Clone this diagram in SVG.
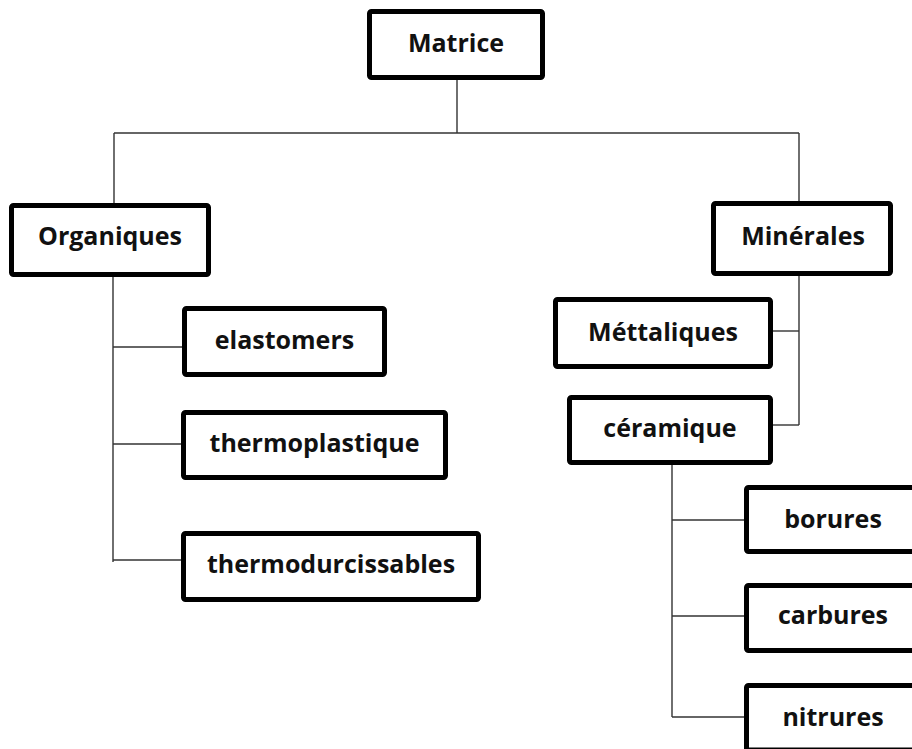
<svg xmlns="http://www.w3.org/2000/svg" width="912" height="749" viewBox="0 0 912 749">
  <style>
    .box { fill: #ffffff; stroke: #000000; stroke-width: 5; }
    .lbl { font-family: "Open Sans", "Liberation Sans", sans-serif; font-weight: 700; font-size: 25px; fill: #111111; text-anchor: middle; }
    .wire { fill: none; stroke: #333333; stroke-width: 1.4; }
  </style>
  <rect width="912" height="749" fill="#ffffff"/>

  <!-- tree connectors -->
  <g id="connectors">
    <path class="wire" d="M457,80 V133"/>
    <path class="wire" d="M114,133 H799"/>
    <path class="wire" d="M114,133 V203"/>
    <path class="wire" d="M799,133 V201"/>
    <path class="wire" d="M113,277 V562"/>
    <path class="wire" d="M113,347 H182"/>
    <path class="wire" d="M113,444 H181"/>
    <path class="wire" d="M113,560 H181"/>
    <path class="wire" d="M799,276 V425"/>
    <path class="wire" d="M799,331 H773"/>
    <path class="wire" d="M799,425 H773"/>
    <path class="wire" d="M672,465 V717"/>
    <path class="wire" d="M672,520 H744"/>
    <path class="wire" d="M672,616 H744"/>
    <path class="wire" d="M672,717 H744"/>
  </g>

  <g id="matrice">
    <rect class="box" x="369.5" y="11.5" width="173" height="66" rx="2"/>
    <text class="lbl" x="456" y="52">Matrice</text>
  </g>
  <g id="organiques">
    <rect class="box" x="11.5" y="205.5" width="197" height="69" rx="2"/>
    <text class="lbl" x="110" y="245">Organiques</text>
  </g>
  <g id="minerales">
    <rect class="box" x="713.5" y="203.5" width="177" height="70" rx="2"/>
    <text class="lbl" x="803" y="245">Minérales</text>
  </g>
  <g id="elastomers">
    <rect class="box" x="184.5" y="308.5" width="200" height="66" rx="2"/>
    <text class="lbl" x="284.5" y="349">elastomers</text>
  </g>
  <g id="thermoplastique">
    <rect class="box" x="183.5" y="412.5" width="262" height="65" rx="2"/>
    <text class="lbl" x="314.5" y="452">thermoplastique</text>
  </g>
  <g id="thermodurcissables">
    <rect class="box" x="183.5" y="533.5" width="295" height="66" rx="2"/>
    <text class="lbl" x="331" y="573">thermodurcissables</text>
  </g>
  <g id="mettaliques">
    <rect class="box" x="555.5" y="299.5" width="215" height="67" rx="2"/>
    <text class="lbl" x="663" y="341">Méttaliques</text>
  </g>
  <g id="ceramique">
    <rect class="box" x="569.5" y="397.5" width="201" height="65" rx="2"/>
    <text class="lbl" x="670" y="437">céramique</text>
  </g>
  <g id="borures">
    <rect class="box" x="746.5" y="487.5" width="180" height="64" rx="2"/>
    <text class="lbl" x="833" y="528">borures</text>
  </g>
  <g id="carbures">
    <rect class="box" x="746.5" y="585.5" width="180" height="65" rx="2"/>
    <text class="lbl" x="833" y="624">carbures</text>
  </g>
  <g id="nitrures">
    <rect class="box" x="746.5" y="685.5" width="180" height="64.5" rx="2"/>
    <text class="lbl" x="833" y="726">nitrures</text>
  </g>
</svg>
